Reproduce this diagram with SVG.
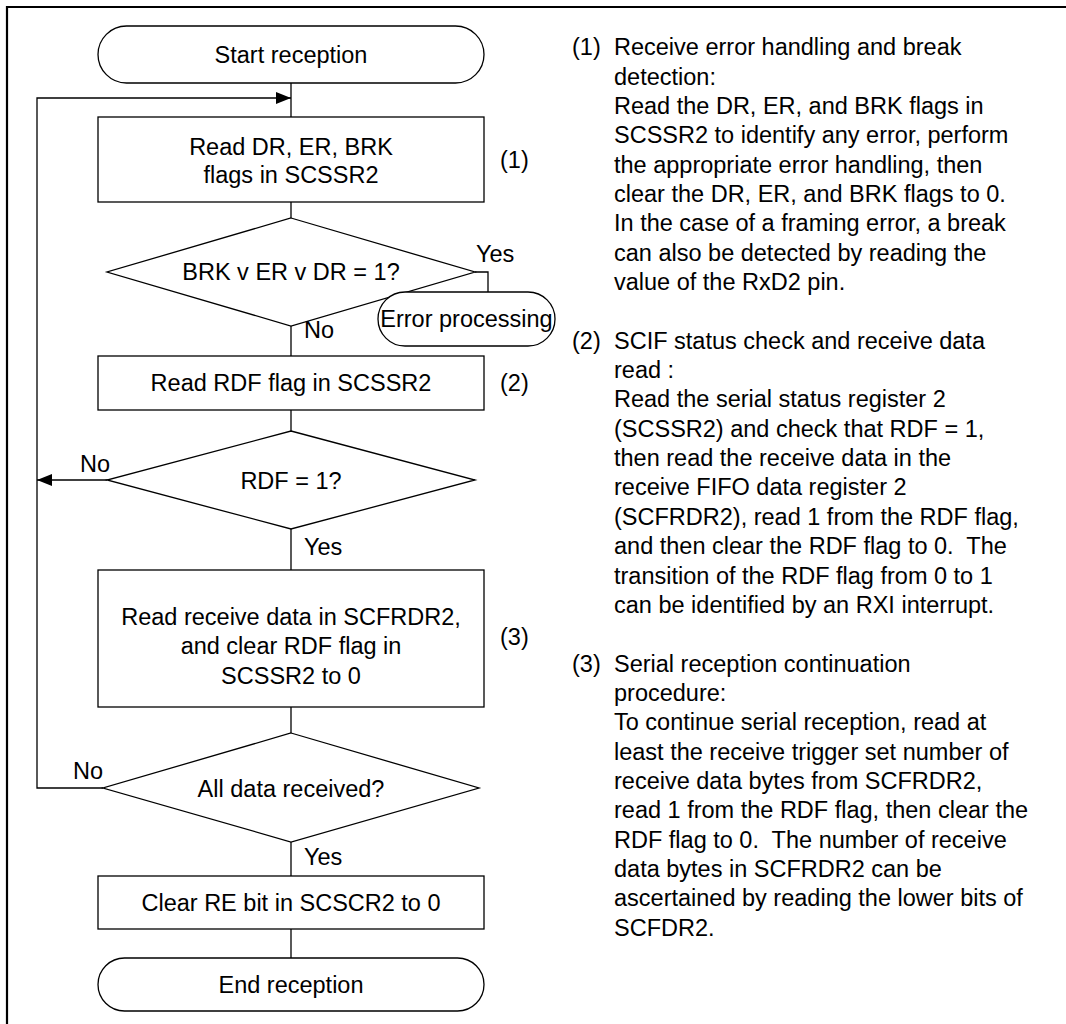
<svg xmlns="http://www.w3.org/2000/svg" width="1066" height="1024" viewBox="0 0 1066 1024">
<style>
text{font-family:"Liberation Sans",Arial,sans-serif;font-size:23.5px;fill:#000;white-space:pre}
.c{text-anchor:middle}
.s{fill:#fff;stroke:#000;stroke-width:1.3}
.l{fill:none;stroke:#000;stroke-width:1.3}
</style>
<defs>
<marker id="ah" markerWidth="16" markerHeight="12" refX="15" refY="6" orient="auto" markerUnits="userSpaceOnUse">
<path d="M0,0 L15,6 L0,12 Z" fill="#000"/>
</marker>
</defs>
<rect width="1066" height="1024" fill="#fff"/>
<path d="M7,1024 V7 H1066" fill="none" stroke="#000" stroke-width="2.2"/>
<g id="connectors">
<path class="l" d="M291,83 V117"/>
<path class="l" d="M291,202 V218"/>
<path class="l" d="M291,326 V356"/>
<path class="l" d="M475,272 H488 V292"/>
<path class="l" d="M291,410 V431"/>
<path class="l" d="M107,480 H37" marker-end="url(#ah)"/>
<path class="l" d="M291,529 V570"/>
<path class="l" d="M291,707 V733"/>
<path class="l" d="M103,788 H37 V98 H291" marker-end="url(#ah)"/>
<path class="l" d="M291,842 V876"/>
<path class="l" d="M291,929 V958"/>
</g>
<g id="start"><rect class="s" x="98" y="26" width="386" height="57" rx="28.5"/><text class="c" x="291" y="63">Start reception</text></g>
<g id="read1"><rect class="s" x="98" y="117" width="386" height="85"/><text class="c" x="291" y="155">Read DR, ER, BRK</text><text class="c" x="291" y="183">flags in SCSSR2</text></g>
<text x="500" y="168">(1)</text>
<g id="dec1"><path class="s" d="M291,218 L475,272 L291,326 L107,272 Z"/><text class="c" x="291" y="280">BRK v ER v DR = 1?</text></g>
<text x="476" y="262">Yes</text>
<text x="304" y="338">No</text>
<g id="err"><rect class="s" x="378" y="292" width="177" height="54" rx="27"/><text class="c" x="466.5" y="327">Error processing</text></g>
<g id="read2"><rect class="s" x="98" y="356" width="386" height="54"/><text class="c" x="291" y="391">Read RDF flag in SCSSR2</text></g>
<text x="500" y="391">(2)</text>
<g id="dec2"><path class="s" d="M291,431 L475,480 L291,529 L107,480 Z"/><text class="c" x="291" y="489">RDF = 1?</text></g>
<text x="80" y="472">No</text>
<text x="304" y="555">Yes</text>
<g id="read3"><rect class="s" x="98" y="570" width="386" height="137"/><text class="c" x="291" y="625">Read receive data in SCFRDR2,</text><text class="c" x="291" y="654">and clear RDF flag in</text><text class="c" x="291" y="684">SCSSR2 to 0</text></g>
<text x="500" y="645">(3)</text>
<g id="dec3"><path class="s" d="M291,733 L479,788 L291,842 L103,788 Z"/><text class="c" x="291" y="797">All data received?</text></g>
<text x="73" y="779">No</text>
<text x="304" y="865">Yes</text>
<g id="clr"><rect class="s" x="98" y="876" width="386" height="53"/><text class="c" x="291" y="911">Clear RE bit in SCSCR2 to 0</text></g>
<g id="end"><rect class="s" x="98" y="958" width="386" height="53" rx="26.5"/><text class="c" x="291" y="993">End reception</text></g>
<g id="notes">
<text x="572" y="55.2">(1)</text>
<text x="614" y="55.2">Receive error handling and break</text>
<text x="614" y="84.6">detection:</text>
<text x="614" y="113.9">Read the DR, ER, and BRK flags in</text>
<text x="614" y="143.3">SCSSR2 to identify any error, perform</text>
<text x="614" y="172.6">the appropriate error handling, then</text>
<text x="614" y="202">clear the DR, ER, and BRK flags to 0.</text>
<text x="614" y="231.3">In the case of a framing error, a break</text>
<text x="614" y="260.7">can also be detected by reading the</text>
<text x="614" y="290">value of the RxD2 pin.</text>
<text x="572" y="348.7">(2)</text>
<text x="614" y="348.7">SCIF status check and receive data</text>
<text x="614" y="378">read :</text>
<text x="614" y="407.4">Read the serial status register 2</text>
<text x="614" y="436.7">(SCSSR2) and check that RDF = 1,</text>
<text x="614" y="466.1">then read the receive data in the</text>
<text x="614" y="495.4">receive FIFO data register 2</text>
<text x="614" y="524.8">(SCFRDR2), read 1 from the RDF flag,</text>
<text x="614" y="554.1" xml:space="preserve">and then clear the RDF flag to 0.  The</text>
<text x="614" y="583.5">transition of the RDF flag from 0 to 1</text>
<text x="614" y="612.8">can be identified by an RXI interrupt.</text>
<text x="572" y="671.6">(3)</text>
<text x="614" y="671.6">Serial reception continuation</text>
<text x="614" y="701">procedure:</text>
<text x="614" y="730.3">To continue serial reception, read at</text>
<text x="614" y="759.7">least the receive trigger set number of</text>
<text x="614" y="789">receive data bytes from SCFRDR2,</text>
<text x="614" y="818.4">read 1 from the RDF flag, then clear the</text>
<text x="614" y="847.7" xml:space="preserve">RDF flag to 0.  The number of receive</text>
<text x="614" y="877.1">data bytes in SCFRDR2 can be</text>
<text x="614" y="906.4">ascertained by reading the lower bits of</text>
<text x="614" y="935.8">SCFDR2.</text>
</g>
</svg>
